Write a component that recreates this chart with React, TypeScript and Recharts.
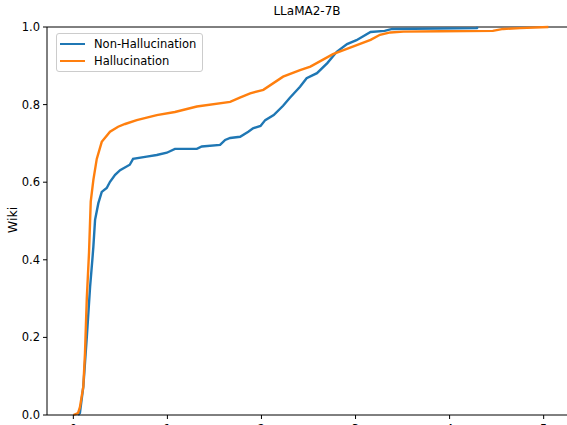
import React from 'react';
import { LineChart, Line, XAxis, YAxis, ReferenceLine } from 'recharts';

const nonHalluX = [
  0.05, 0.07, 0.106, 0.143, 0.178, 0.202, 0.213, 0.231, 0.266, 0.302, 0.355, 0.39, 0.444, 0.497,
  0.6, 0.635, 0.78, 0.887, 0.994, 1.08, 1.313, 1.366, 1.56, 1.614, 1.667, 1.773, 1.86, 1.91, 1.99,
  2.04, 2.13, 2.23, 2.3, 2.41, 2.48, 2.59, 2.7, 2.8, 2.91, 3.01, 3.16, 3.31, 3.39, 4.29, 4.3,
];
const nonHalluY = [
  0, 0.005, 0.073, 0.2, 0.33, 0.4, 0.434, 0.503, 0.546, 0.575, 0.585, 0.601, 0.619, 0.631,
  0.645, 0.66, 0.666, 0.67, 0.676, 0.686, 0.686, 0.692, 0.696, 0.709, 0.714, 0.717, 0.73, 0.739, 0.745,
  0.76, 0.773, 0.797, 0.817, 0.846, 0.868, 0.881, 0.907, 0.936, 0.956, 0.966, 0.987, 0.99, 0.995, 0.997, 1.0,
];

const halluX = [
  0, 0.05, 0.07, 0.106, 0.124, 0.143, 0.167, 0.185, 0.213, 0.249, 0.302, 0.39, 0.476, 0.55, 0.674,
  0.887, 1.08, 1.313, 1.667, 1.77, 1.88, 2.02, 2.23, 2.41, 2.52, 2.76, 3.02, 3.16, 3.26, 3.37, 3.51,
  3.9, 4.46, 4.57, 4.75, 5.05,
];
const halluY = [
  0, 0.005, 0.02, 0.073, 0.16, 0.3, 0.42, 0.55, 0.606, 0.66, 0.704, 0.73, 0.743, 0.75, 0.76,
  0.773, 0.781, 0.795, 0.807, 0.818, 0.829, 0.838, 0.872, 0.889, 0.898, 0.93, 0.954, 0.967, 0.98, 0.986, 0.988,
  0.989, 0.99, 0.995, 0.997, 1.0,
];

const xTicks = [0, 1, 2, 3, 4, 5];
const yTicks = [0, 0.2, 0.4, 0.6, 0.8, 1.0];

const nonHalluData = nonHalluX.map((x, i) => ({ x, y: nonHalluY[i] }));
const halluData = halluX.map((x, i) => ({ x, y: halluY[i] }));

const FONT = '"DejaVu Sans", sans-serif';
const BLUE = '#1f77b4';
const ORANGE = '#ff7f0e';

export default function App() {
  return (
    <div style={{ position: 'absolute', left: 0, top: 0, width: 567, height: 425, overflow: 'hidden', background: '#fff', fontFamily: FONT }}>
      <div style={{ position: 'absolute', left: 0, width: 614, top: 4, textAlign: 'center', fontSize: 12, color: '#000' }}>
        LLaMA2-7B
      </div>
      <div
        style={{
          position: 'absolute', left: 12, top: 220, fontSize: 12.5, color: '#000',
          transform: 'translate(-50%, -50%) rotate(-90deg)', whiteSpace: 'nowrap',
        }}
      >
        Wiki
      </div>

      <div style={{ position: 'absolute', left: 0, top: 0 }}>
        <LineChart width={580} height={440} margin={{ top: 27, right: 10, bottom: 0, left: 0 }}>
          <XAxis
            dataKey="x"
            type="number"
            domain={[-0.28, 5.28]}
            ticks={xTicks}
            allowDataOverflow
            height={25}
            tickSize={4}
            tickMargin={5.5}
            axisLine={{ stroke: '#000', strokeWidth: 1 }}
            tickLine={{ stroke: '#000' }}
            tick={{ fontSize: 11.5, fill: '#000', fontFamily: FONT }}
          />
          <YAxis
            type="number"
            domain={[0, 1]}
            ticks={yTicks}
            width={47}
            tickSize={4}
            tickMargin={3}
            tickFormatter={(v: number) => v.toFixed(1)}
            axisLine={{ stroke: '#000', strokeWidth: 1 }}
            tickLine={{ stroke: '#000' }}
            tick={{ fontSize: 11.5, fill: '#000', fontFamily: FONT }}
          />
          <ReferenceLine y={1} stroke="#000" strokeWidth={1} />
          <Line
            data={nonHalluData}
            dataKey="y"
            type="linear"
            stroke={BLUE}
            strokeWidth={2.4}
            dot={false}
            isAnimationActive={false}
          />
          <Line
            data={halluData}
            dataKey="y"
            type="linear"
            stroke={ORANGE}
            strokeWidth={2.4}
            dot={false}
            isAnimationActive={false}
          />
        </LineChart>
      </div>

      <div
        style={{
          position: 'absolute', left: 56, top: 33, width: 145, height: 37,
          border: '1px solid #cccccc', borderRadius: 3, background: 'rgba(255,255,255,0.8)',
          fontSize: 11.5, color: '#000',
        }}
      >
        {[
          { name: 'Non-Hallucination', color: BLUE },
          { name: 'Hallucination', color: ORANGE },
        ].map((item, i) => (
          <div key={item.name} style={{ position: 'absolute', left: 3, top: 2 + i * 16.6, height: 16, display: 'flex', alignItems: 'center' }}>
            <span style={{ display: 'inline-block', width: 25, height: 2.2, background: item.color, marginRight: 9 }} />
            <span>{item.name}</span>
          </div>
        ))}
      </div>
    </div>
  );
}
